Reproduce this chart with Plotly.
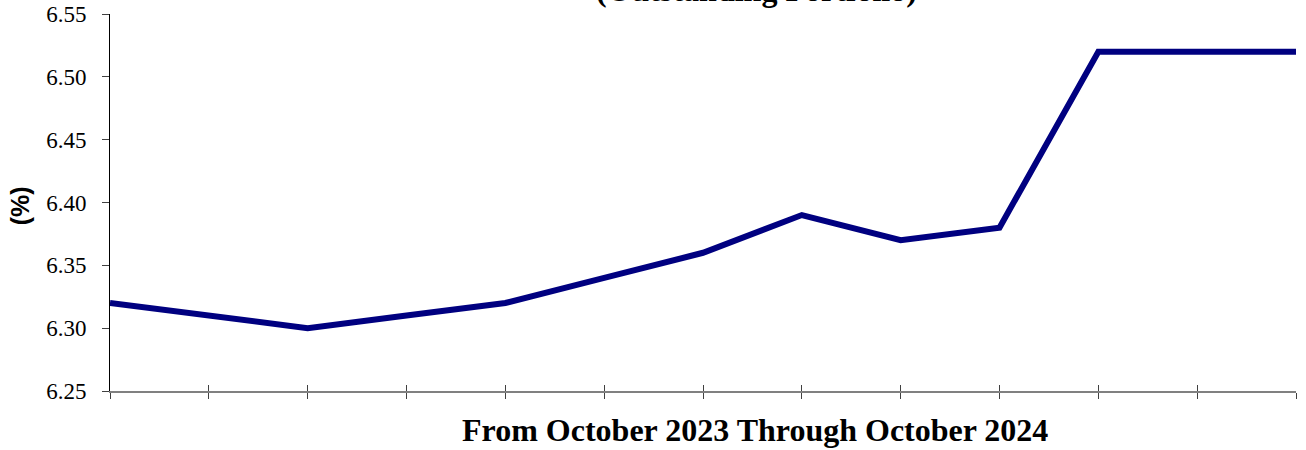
import plotly.graph_objects as go

months = ["Oct-23", "Nov-23", "Dec-23", "Jan-24", "Feb-24", "Mar-24", "Apr-24",
          "May-24", "Jun-24", "Jul-24", "Aug-24", "Sep-24", "Oct-24"]
rates = [6.32, 6.31, 6.30, 6.31, 6.32, 6.34, 6.36, 6.39, 6.37, 6.38, 6.52, 6.52, 6.52]
y_ticks = [6.25, 6.30, 6.35, 6.40, 6.45, 6.50, 6.55]
title_text = "(Outstanding Portfolio)"
x_title = "From October 2023 Through October 2024"
y_title = "(%)"

fig = go.Figure()
fig.add_trace(go.Scatter(x=months, y=rates, mode="lines",
                         line=dict(color="#000080", width=6),
                         showlegend=False, cliponaxis=False))
# overlay axis for the upward half of the crossing tick marks
fig.add_trace(go.Scatter(x=months, y=rates, mode="lines", xaxis="x2",
                         line=dict(color="rgba(0,0,0,0)", width=0),
                         showlegend=False, hoverinfo="skip"))

fig.update_layout(
    width=1306, height=450,
    margin=dict(l=110, r=10, t=14, b=59),
    paper_bgcolor="white", plot_bgcolor="white",
    xaxis=dict(type="category", range=[0, len(months) - 1], automargin=False,
               showticklabels=False, ticks="outside", ticklen=6,
               tickcolor="#404040", tickwidth=1.3,
               showline=True, linecolor="#808080", linewidth=1.8,
               showgrid=False, zeroline=False),
    xaxis2=dict(type="category", range=[0, len(months) - 1], overlaying="x",
                matches="x", showticklabels=False, ticks="inside", ticklen=6,
                tickcolor="#404040", tickwidth=1.3, showline=False,
                showgrid=False, zeroline=False, anchor="y", automargin=False),
    yaxis=dict(range=[6.25, 6.55], tickvals=y_ticks, automargin=False,
               ticktext=[f"{v:.2f}" for v in y_ticks],
               ticks="outside", ticklen=7, tickcolor="#404040",
               showline=True, linecolor="black", linewidth=1,
               showgrid=False, zeroline=False, ticklabelstandoff=11,
               tickfont=dict(family="Liberation Serif", size=23, color="black")),
    annotations=[
        dict(text=f"<b>{title_text}</b>", xref="paper", yref="paper",
             x=0.5455, y=1.010, xanchor="center", yanchor="bottom", showarrow=False,
             font=dict(family="Liberation Serif", size=32, color="black")),
        dict(text=f"<b>{x_title}</b>", xref="paper", yref="paper",
             x=0.544, y=0, yshift=-39, xanchor="center", yanchor="middle", showarrow=False,
             font=dict(family="Liberation Serif", size=32, color="black")),
        dict(text=f"<b>{y_title}</b>", xref="paper", yref="paper",
             x=0, xshift=-90, y=0.49, xanchor="center", yanchor="middle",
             textangle=-90, showarrow=False,
             font=dict(family="Liberation Sans", size=25, color="black")),
    ],
)

fig.write_html("out.html", config={"displayModeBar": False},
               post_script="document.body.style.margin='0';")
